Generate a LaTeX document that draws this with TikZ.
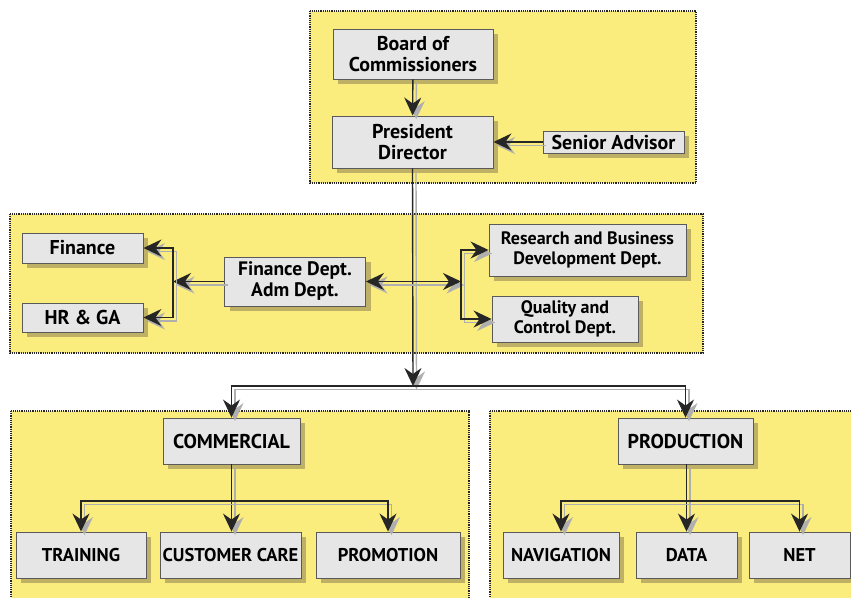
\documentclass[tikz,border=0pt]{standalone}
\usepackage{fontspec}
\setmainfont{PT Sans}
\usetikzlibrary{arrows.meta,shadows}
\definecolor{panelyellow}{RGB}{250,236,125}
\definecolor{boxgray}{RGB}{230,230,230}
\definecolor{boxline}{RGB}{90,90,90}
\definecolor{khaki}{RGB}{190,176,100}
\definecolor{connshadow}{RGB}{175,175,175}
\tikzset{
  tip/.tip={Stealth[length=18pt,width=17pt,inset=6pt]},
  panel/.style={fill=panelyellow, draw=black!85, densely dotted, line width=1.2pt},
  orgbox/.style={draw=boxline, fill=boxgray, line width=0.9pt, inner sep=0pt,
    align=center, font=\bfseries\fontsize{20}{21.5}\selectfont,
    drop shadow={shadow xshift=5pt, shadow yshift=-5pt, fill=khaki, opacity=1}},
  midbox/.style={orgbox, font=\bfseries\fontsize{19.5}{21}\selectfont},
  smallbox/.style={orgbox, font=\bfseries\fontsize{18}{19.5}\selectfont},
  botbox/.style={orgbox, font=\bfseries\fontsize{18.5}{20}\selectfont},
  conn/.style={draw=black!85, line width=1.4pt, -tip,
    preaction={draw=connshadow, line width=1.4pt, transform canvas={shift={(3.5pt,-3.5pt)}}}},
  connboth/.style={conn, tip-tip},
}
\begin{document}
\begin{tikzpicture}[x=1pt,y=-1pt]
\useasboundingbox (0,0) rectangle (851,597);
% panels
\path[panel] (310,11) rectangle (696,183);
\path[panel] (10,214) rectangle (703,353);
\begin{scope}
\clip (0,0) rectangle (851,597);
\path[panel] (11,411) rectangle (469,610);
\path[panel] (490,411) rectangle (870,610);
\end{scope}
% boxes
\node[orgbox, minimum width=160pt, minimum height=50pt] (board) at (413,54) {Board of\\Commissioners};
\node[orgbox, minimum width=161pt, minimum height=52pt] (pres) at (412.5,142) {President\\Director};
\node[orgbox, minimum width=141pt, minimum height=22pt] (senior) at (613.5,142) {Senior Advisor};
\node[orgbox, minimum width=121pt, minimum height=30pt] (finance) at (82.5,248) {Finance};
\node[orgbox, minimum width=121pt, minimum height=29pt] (hrga) at (82.5,317.5) {HR \& GA};
\node[midbox, minimum width=141pt, minimum height=49pt] (fin) at (295,281.5) {Finance Dept.\\Adm Dept.};
\node[smallbox, minimum width=197pt, minimum height=52pt] (rnd) at (587.5,250) {Research and Business\\Development Dept.};
\node[smallbox, minimum width=146pt, minimum height=46pt] (qc) at (565,319) {Quality and\\Control Dept.};
\node[orgbox, minimum width=137pt, minimum height=46pt] (comm) at (231.5,441) {COMMERCIAL};
\node[orgbox, minimum width=135pt, minimum height=46pt] (prod) at (685.5,441) {PRODUCTION};
\node[botbox, minimum width=130pt, minimum height=46pt] (training) at (81,555) {TRAINING};
\node[botbox, minimum width=141pt, minimum height=46pt] (cc) at (230.5,555) {CUSTOMER CARE};
\node[botbox, minimum width=144pt, minimum height=46pt] (promo) at (388,555) {PROMOTION};
\node[botbox, minimum width=116pt, minimum height=46pt] (nav) at (561,555) {NAVIGATION};
\node[botbox, minimum width=101pt, minimum height=46pt] (data) at (686.5,555) {DATA};
\node[botbox, minimum width=101pt, minimum height=46pt] (net) at (799.5,555) {NET};
% junction coordinates
\coordinate (hub) at (413,386);
\coordinate (bL) at (173,281.5);
\coordinate (bR) at (461,281.5);
\coordinate (cj) at (231.5,501);
\coordinate (pj) at (686.5,501);
% connectors
\draw[conn] (board) -- (pres);
\draw[conn] (senior.west) -- (senior.west -| pres.east);
\draw[conn] (pres.south) -- (hub);
\draw[conn] (hub) -| (comm.north);
\draw[conn] (hub) -| (prod.north);
\draw[connboth] (fin.east) -- (bR);
\draw[conn] (bR) |- (rnd.west);
\draw[conn] (bR) |- (qc.west);
\draw[conn] (fin.west) -- (bL);
\draw[conn] (bL) |- (finance.east);
\draw[conn] (bL) |- (hrga.east);
\draw[conn] (comm.south) -- (comm.south |- cc.north);
\draw[conn] (cj) -| (training.north);
\draw[conn] (cj) -| (promo.north);
\draw[conn] (prod.south -| pj) -- (data.north);
\draw[conn] (pj) -| (nav.north);
\draw[conn] (pj) -| (net.north);
\end{tikzpicture}
\end{document}
